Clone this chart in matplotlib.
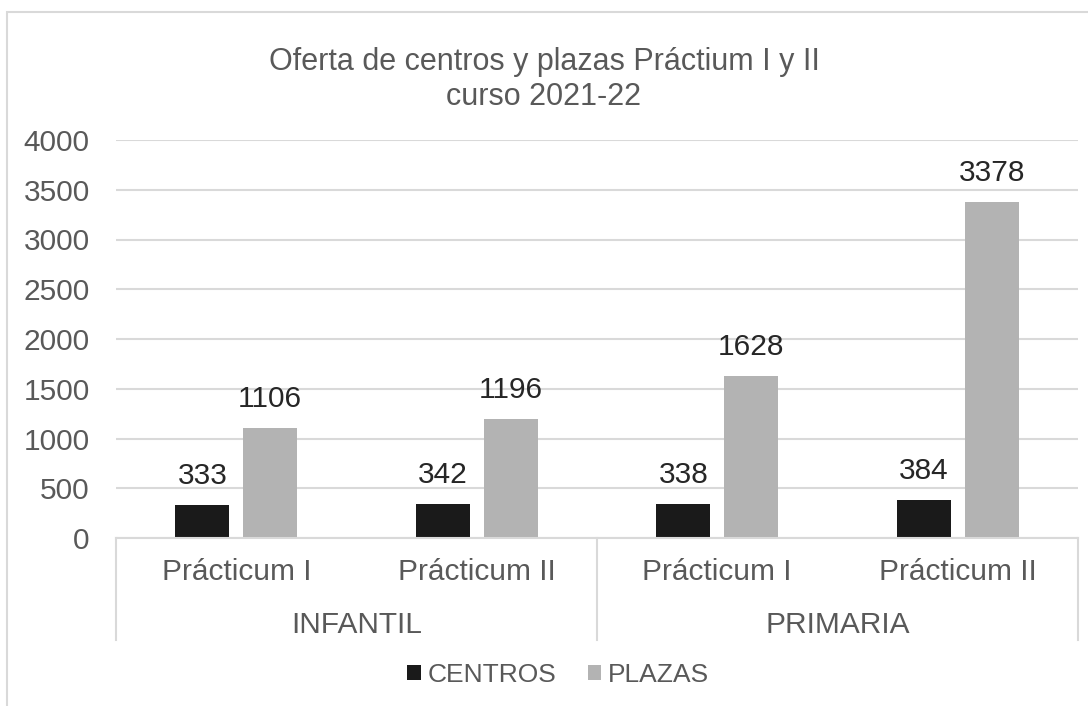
import matplotlib.pyplot as plt
import numpy as np
from matplotlib.patches import Rectangle

plt.rcParams['font.family'] = ['Liberation Sans', 'DejaVu Sans']

grupos = ['INFANTIL', 'PRIMARIA']
practicas = ['Prácticum I', 'Prácticum II', 'Prácticum I', 'Prácticum II']
centros = [333, 342, 338, 384]
plazas = [1106, 1196, 1628, 3378]
series = ['CENTROS', 'PLAZAS']

TXT = '#595959'
GRID = '#d9d9d9'
C_CENTROS = '#1a1a1a'
C_PLAZAS = '#b3b3b3'
FS = 21.5

W, H = 1088, 706
fig = plt.figure(figsize=(W / 100, H / 100), dpi=100)

# borde del grafico
fig.patches.append(Rectangle((7 / W, -0.01), 1.2, 1 - 12 / H + 0.01,
                             transform=fig.transFigure, fill=False,
                             edgecolor=GRID, linewidth=1.5))

ax = fig.add_axes([116 / W, 1 - 538 / H, (1078 - 116) / W, (538 - 140) / H])

x = np.arange(len(practicas))
bw = 0.225
off = 0.141
b1 = ax.bar(x - off, centros, bw, color=C_CENTROS, label=series[0])
b2 = ax.bar(x + off, plazas, bw, color=C_PLAZAS, label=series[1])
for bars, vals in ((b1, centros), (b2, plazas)):
    for r, v in zip(bars, vals):
        ax.annotate(str(v), (r.get_x() + r.get_width() / 2, v),
                    xytext=(0, 11), textcoords='offset points', ha='center',
                    va='bottom', fontsize=FS, color='#262626')

ax.set_xlim(-0.5, len(practicas) - 0.5)
ax.set_ylim(0, 4000)
ax.set_yticks(np.arange(0, 4001, 500))
ax.yaxis.grid(True, color=GRID, linewidth=1.5)
ax.set_axisbelow(True)
for s in ax.spines.values():
    s.set_visible(False)
ax.tick_params(axis='y', length=0, labelsize=FS, labelcolor=TXT, pad=19)
ax.set_xticks([])

# eje de categorias multinivel
trans = ax.get_xaxis_transform()
sep_h = (640 - 538) / (538 - 140)
ax.plot([-0.5, 3.5], [0, 0], color=GRID, lw=1.5, transform=trans, clip_on=False)
for xs in (-0.5, 1.5, 3.5):
    ax.plot([xs, xs], [0, -sep_h], color=GRID, lw=1.5, transform=trans,
            clip_on=False)
for i, lab in enumerate(practicas):
    ax.text(i, -(572 - 538) / 398, lab, ha='center', va='center',
            fontsize=FS, color=TXT, transform=trans)
for j, g in enumerate(grupos):
    ax.text(2 * j + 0.5, -(625 - 538) / 398, g, ha='center', va='center',
            fontsize=FS, color=TXT, transform=trans)

fig.text(0.5, 1 - 62 / H, 'Oferta de centros y plazas Práctium I y II',
         ha='center', va='center', fontsize=FS + 0.5, color=TXT)
fig.text(0.5, 1 - 97 / H, 'curso 2021-22', ha='center', va='center',
         fontsize=FS + 0.5, color=TXT)

fig.legend(loc='center', bbox_to_anchor=(558 / W, 1 - 675 / H), ncol=2,
           frameon=False, fontsize=FS - 2.5, labelcolor=TXT, handlelength=0.5,
           handleheight=0.5, handletextpad=0.25, columnspacing=1.2)

fig.savefig('out.png', dpi=100)
